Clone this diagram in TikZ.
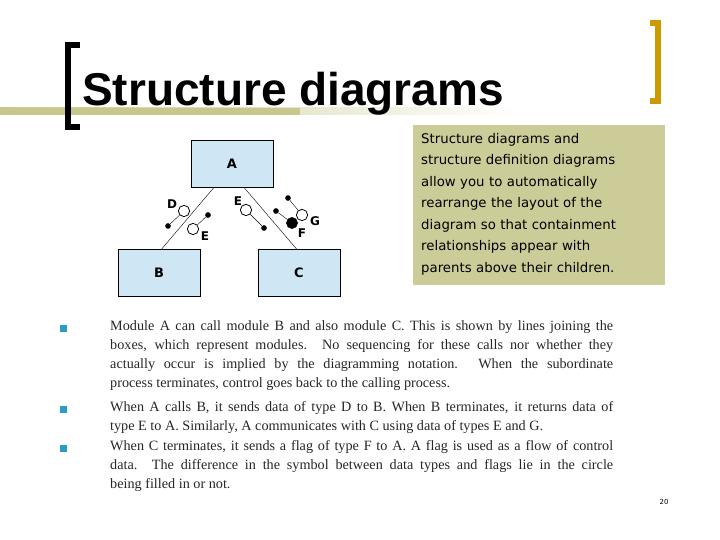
\documentclass[tikz,border=0pt]{standalone}
\usepackage{fontspec}
\setmainfont{Liberation Serif}
\setsansfont{DejaVu Sans}
\newfontfamily\titlefont{Liberation Sans}
\usetikzlibrary{calc,positioning}
\definecolor{boxblue}{HTML}{CFE7F5}
\definecolor{noteolive}{HTML}{CCCC99}
\definecolor{barolive}{HTML}{C8C88C}
\definecolor{bracketgold}{HTML}{CC9900}
\definecolor{bullteal}{HTML}{2A9CC8}
\tikzset{
  module/.style={draw, line width=0.8pt, fill=boxblue, minimum width=82pt, minimum height=47pt,
    font=\sffamily\bfseries\fontsize{13}{13}\selectfont},
  flagtip/.style={circle, fill, inner sep=2pt},
  datacircle/.style={circle, draw, fill=white, inner sep=4pt, line width=0.8pt},
  flagcircle/.style={circle, draw, fill, inner sep=4pt},
  couplelabel/.style={font=\sffamily\bfseries\fontsize{12}{12}\selectfont, inner sep=1pt},
  bullbox/.style={fill=bullteal, minimum size=7pt, inner sep=0pt},
  bodytext/.style={text width=503pt, align=justify, anchor=north west, inner sep=0pt,
    font=\fontsize{14.2}{19.2}\selectfont, text=black!85}
}
\begin{document}
\begin{tikzpicture}[x=1pt, y=-1pt]
  \useasboundingbox (0,0) rectangle (720,540);
  % title bar and brackets
  \shade[left color=barolive, right color=white] (0,108) rectangle (520,115);
  \fill[barolive] (0,108) rectangle (300,115);
  \draw[line width=6pt] (80,45) -- (68,45) -- (68,127) -- (80,127);
  \draw[line width=6pt, bracketgold] (650,23) -- (658,23) -- (658,101) -- (650,101);
  \node[font=\titlefont\bfseries\fontsize{46}{46}\selectfont, anchor=base west, inner sep=0pt]
    (title) at (82,106) {Structure diagrams};

  % modules
  \node[module] (A) at (232,164) {A};
  \node[module] (B) at (159,273) {B};
  \node[module] (C) at (299,273) {C};
  \draw (A.south west) ++(23,0) coordinate (a1);
  \draw (A.south east) ++(-29,0) coordinate (a2);
  \draw (a1) -- ($(B.north west)+(44,0)$) coordinate (b1);
  \draw (a2) -- ($(C.north west)+(39,0)$) coordinate (c1);

  % couples A--B
  \node[couplelabel] (Dl) at (172,204) {D};
  \node[datacircle] (Dc) at (184,211) {};
  \node[flagtip] (Dt) at (168,226) {};
  \draw (Dc) -- (Dt);
  \node[datacircle] (Ec) at (193,229) {};
  \node[couplelabel] (El) at (205,236) {E};
  \node[flagtip] (Et) at (208,215) {};
  \draw (Ec) -- (Et);

  % couples A--C
  \node[couplelabel] (E2l) at (238,201) {E};
  \node[datacircle] (E2c) at (246,210) {};
  \node[flagtip] (E2t) at (264,228) {};
  \draw (E2c) -- (E2t);
  \node[flagtip] (Gt) at (288,198) {};
  \node[datacircle] (Gc) at (302,215) {};
  \node[couplelabel] (Gl) at (315,221) {G};
  \draw (Gt) -- (Gc);
  \node[flagtip] (Ft) at (276,211) {};
  \node[flagcircle] (Fc) at (292,223) {};
  \node[couplelabel] (Fl) at (302,233) {F};
  \draw (Fc) -- (Ft);

  % note
  \node[fill=noteolive, anchor=north west, minimum width=252pt, minimum height=160pt,
    text width=240pt, inner sep=0pt] (note) at (413,125) {};
  \node[anchor=north west, text width=250pt, align=left, inner sep=0pt,
    font=\sffamily\fontsize{13.3}{21.5}\selectfont] (notetext) at (421,133)
    {Structure diagrams and\\ structure definition diagrams\\ allow you to automatically\\
     rearrange the layout of the\\ diagram so that containment\\ relationships appear with\\
     parents above their children.};

  % bullets
  \node[bullbox] (b1x) at (63,328) {};
  \node[bullbox] (b2x) at (63,409) {};
  \node[bullbox] (b3x) at (63,448) {};
  \node[bodytext] (t1) at (110,320) {Module A can call module B and also module C. This is shown by lines joining the\linebreak boxes, which represent modules. No sequencing for these calls nor whether they\linebreak actually occur is implied by the diagramming notation. When the subordinate\linebreak process terminates, control goes back to the calling process.};
  \node[bodytext] (t2) at (110,401) {When A calls B, it sends data of type D to B. When B terminates, it returns data of\linebreak type E to A. Similarly, A communicates with C using data of types E and G.};
  \node[bodytext] (t3) at (110,440) {When C terminates, it sends a flag of type F to A. A flag is used as a flow of control\linebreak data. The difference in the symbol between data types and flags lie in the circle\linebreak being filled in or not.};

  \node[font=\sffamily\scriptsize] (page) at (664,502) {20};
\end{tikzpicture}
\end{document}
